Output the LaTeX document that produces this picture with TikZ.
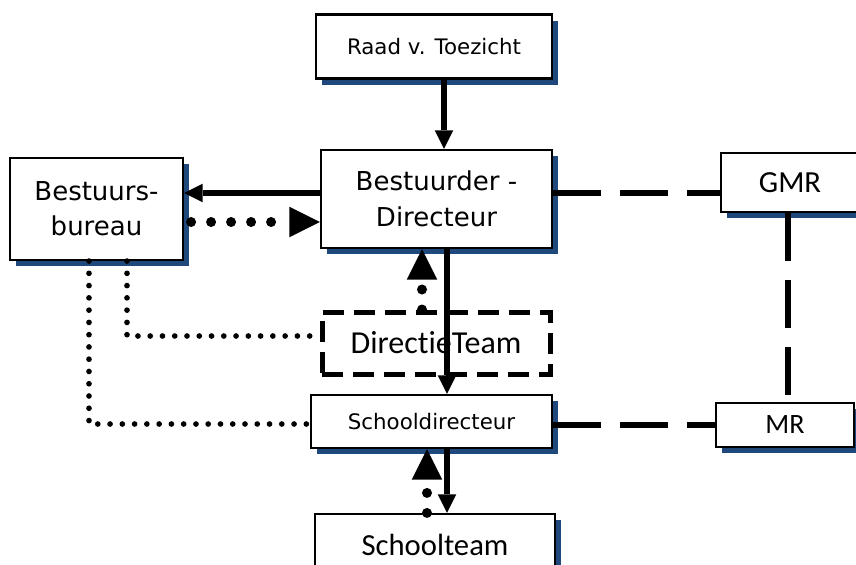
\documentclass[tikz,border=0pt]{standalone}
\usepackage{fontspec}
\setmainfont{DejaVu Sans}
\newfontfamily\calibrifont{Carlito}[Ligatures=NoCommon]
\usetikzlibrary{arrows.meta,shadows}
\definecolor{shadowblue}{RGB}{31,73,125}
\tikzset{
  orgbox/.style={draw,line width=1.6pt,fill=white,inner sep=0pt,align=center,
    drop shadow={shadow xshift=4.5pt,shadow yshift=-4.5pt,fill=shadowblue,opacity=1}},
  teambox/.style={draw,line width=3.75pt,dash pattern=on 15.75pt off 7.5pt,inner sep=0pt},
  solidarrow/.style={line width=4pt,-{Triangle[length=14pt,width=14pt,line width=0pt]}},
  bigdots/.style={line width=7.5pt,line cap=round,dash pattern=on 0pt off 15pt,
    -{Triangle[length=23pt,width=23pt,line width=0pt]}},
  smalldots/.style={line width=4.25pt,line cap=round,dash pattern=on 0pt off 9.2pt},
  longdash/.style={line width=4.5pt,dash pattern=on 36pt off 14.25pt},
}
\begin{document}
\begin{tikzpicture}[x=0.75pt,y=-0.75pt]
\useasboundingbox (0,0) rectangle (856,564);
\clip (0,0) rectangle (856,564);
% boxes
\node[orgbox,minimum width=177pt,minimum height=48pt,font=\fontsize{16}{19}\selectfont]
  (raad) at (434,46.5) {Raad v. Toezicht};
\node[orgbox,minimum width=173.25pt,minimum height=73.5pt,font=\fontsize{19.5}{27}\selectfont]
  (bestuurder) at (436.5,199) {Bestuurder -\\Directeur};
\node[orgbox,minimum width=129.75pt,minimum height=76.5pt,font=\fontsize{19.5}{26}\selectfont]
  (bureau) at (96.5,209) {Bestuurs-\\bureau};
\node[orgbox,minimum width=103.5pt,minimum height=44.25pt,font=\calibrifont\fontsize{23}{27}\selectfont]
  (gmr) at (790,182.5) {GMR};
\node[orgbox,minimum width=103.5pt,minimum height=33pt,font=\calibrifont\fontsize{21}{24}\selectfont]
  (mr) at (785,425) {\raisebox{-3pt}{MR}};
\node[teambox,minimum width=171pt,minimum height=46.5pt,font=\calibrifont\fontsize{24}{28}\selectfont]
  (directie) at (436,343) {DirectieTeam};
\node[orgbox,minimum width=180.75pt,minimum height=39.75pt,font=\fontsize{16}{19}\selectfont]
  (school) at (431.5,421.5) {Schooldirecteur};
\node[orgbox,minimum width=180pt,minimum height=46.5pt,font=\calibrifont\fontsize{23}{27}\selectfont]
  (team) at (435,545) {Schoolteam};
% lines of command
\draw[solidarrow] (444,0 |- raad.south) -- (444,0 |- bestuurder.north);
\draw[solidarrow] (bestuurder.west |- 0,193) -- (bureau.east |- 0,193);
\draw[solidarrow] (447,0 |- bestuurder.south) -- (447,0 |- school.north);
\draw[solidarrow] (447,0 |- school.south) -- (447,0 |- team.north);
% reporting
\draw[bigdots,shorten <=5.25pt] (bureau.east |- 0,222) -- (bestuurder.west |- 0,222);
\draw[bigdots] (422,0 |- directie.north) -- (422,0 |- bestuurder.south);
\draw[bigdots] (427,0 |- team.north) -- (427,0 |- school.south);
\draw[smalldots] (127,0 |- bureau.south) |- (directie.west |- 0,336);
\draw[smalldots] (89,0 |- bureau.south) |- (school.west |- 0,424);
% participation
\draw[longdash] (bestuurder.east |- 0,193) -- (gmr.west |- 0,193);
\draw[longdash] (788,0 |- gmr.south) -- (788,0 |- mr.north);
\draw[longdash] (school.east |- 0,425) -- (mr.west |- 0,425);
\end{tikzpicture}
\end{document}
